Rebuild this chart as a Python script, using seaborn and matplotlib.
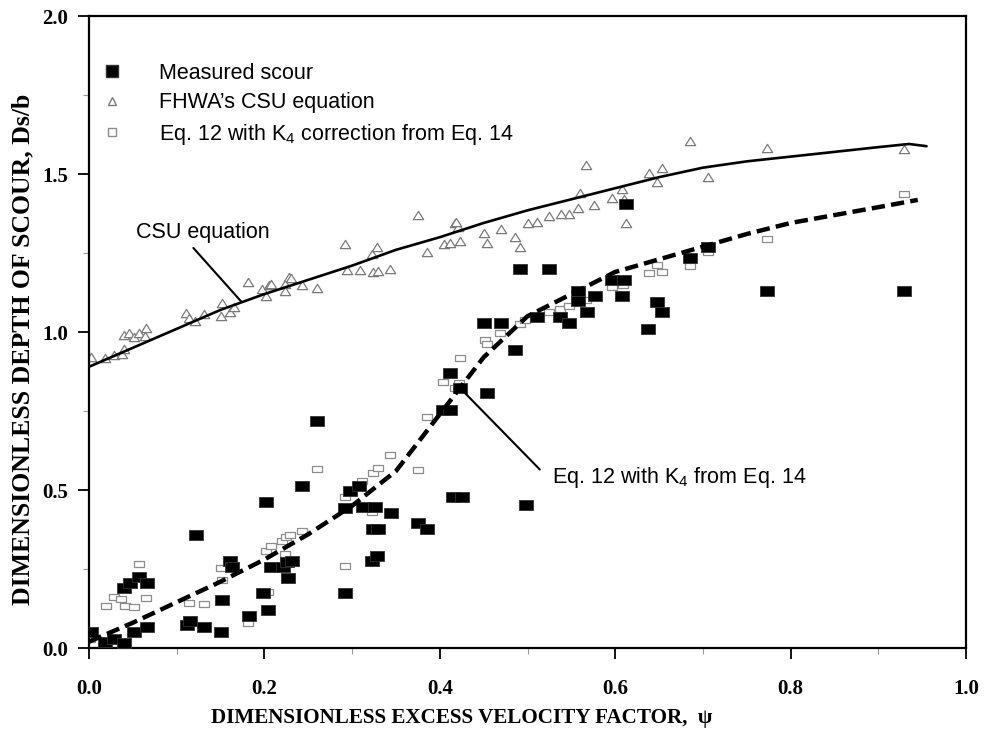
import numpy as np
import pandas as pd
import matplotlib
matplotlib.use("Agg")
import matplotlib.pyplot as plt
from matplotlib.path import Path
from matplotlib.markers import MarkerStyle
from matplotlib.lines import Line2D
import seaborn as sns

# ---------------- data ----------------
measured_x = [0.002, 0.018, 0.029, 0.040, 0.051, 0.066, 0.040, 0.047, 0.057, 0.066,
              0.112, 0.115, 0.131, 0.152, 0.151, 0.161, 0.163, 0.182, 0.122, 0.198,
              0.204, 0.207, 0.202, 0.243, 0.260, 0.221, 0.226, 0.231, 0.227, 0.292,
              0.298, 0.292, 0.308, 0.312, 0.326, 0.324, 0.330, 0.323, 0.328, 0.344,
              0.375, 0.385, 0.404, 0.412, 0.412, 0.423, 0.415, 0.425, 0.454, 0.491,
              0.524, 0.450, 0.470, 0.486, 0.511, 0.537, 0.547, 0.558, 0.558, 0.612,
              0.577, 0.568, 0.596, 0.610, 0.608, 0.648, 0.653, 0.637, 0.685, 0.706,
              0.773, 0.929, 0.498]
measured_y = [0.050, 0.020, 0.030, 0.016, 0.050, 0.066, 0.190, 0.205, 0.225, 0.205,
              0.073, 0.085, 0.066, 0.152, 0.050, 0.275, 0.256, 0.100, 0.357, 0.174,
              0.120, 0.256, 0.462, 0.513, 0.718, 0.256, 0.272, 0.275, 0.222, 0.174,
              0.497, 0.443, 0.512, 0.446, 0.446, 0.377, 0.377, 0.275, 0.291, 0.427,
              0.395, 0.377, 0.753, 0.753, 0.870, 0.823, 0.478, 0.478, 0.807, 1.199,
              1.199, 1.028, 1.028, 0.943, 1.047, 1.047, 1.028, 1.130, 1.098, 1.405,
              1.114, 1.063, 1.165, 1.165, 1.114, 1.095, 1.063, 1.009, 1.234, 1.269,
              1.130, 1.130, 0.453]

csu_x = [0.002, 0.018, 0.029, 0.038, 0.040, 0.040, 0.046, 0.051, 0.057, 0.065,
         0.064, 0.111, 0.114, 0.121, 0.131, 0.152, 0.151, 0.161, 0.165, 0.181,
         0.197, 0.202, 0.205, 0.207, 0.224, 0.228, 0.230, 0.223, 0.243, 0.260,
         0.292, 0.323, 0.328, 0.309, 0.294, 0.324, 0.330, 0.343, 0.385, 0.405,
         0.412, 0.423, 0.417, 0.421, 0.454, 0.450, 0.470, 0.486, 0.491, 0.500,
         0.511, 0.375, 0.418, 0.567, 0.639, 0.653, 0.648, 0.608, 0.596, 0.576,
         0.558, 0.547, 0.538, 0.524, 0.612, 0.685, 0.706, 0.560, 0.610, 0.773,
         0.929]
csu_y = [0.921, 0.918, 0.927, 0.930, 0.946, 0.991, 0.997, 0.984, 0.997, 1.013,
         0.987, 1.060, 1.044, 1.035, 1.057, 1.092, 1.051, 1.063, 1.079, 1.158,
         1.136, 1.114, 1.149, 1.152, 1.152, 1.174, 1.171, 1.130, 1.149, 1.139,
         1.278, 1.247, 1.269, 1.196, 1.196, 1.190, 1.193, 1.199, 1.253, 1.278,
         1.282, 1.288, 1.345, 1.332, 1.282, 1.313, 1.326, 1.301, 1.269, 1.345,
         1.348, 1.370, 1.348, 1.528, 1.503, 1.519, 1.475, 1.452, 1.424, 1.402,
         1.392, 1.373, 1.373, 1.367, 1.345, 1.604, 1.491, 1.440, 1.421, 1.582,
         1.579]

eq12_x = [0.057, 0.029, 0.037, 0.019, 0.041, 0.051, 0.065, 0.114, 0.131, 0.151,
          0.181, 0.001, 0.029, 0.260, 0.204, 0.202, 0.207, 0.220, 0.225, 0.229,
          0.243, 0.224, 0.292, 0.292, 0.311, 0.324, 0.330, 0.323, 0.343, 0.375,
          0.385, 0.404, 0.423, 0.422, 0.417, 0.452, 0.454, 0.469, 0.491, 0.497,
          0.525, 0.537, 0.547, 0.567, 0.596, 0.609, 0.639, 0.653, 0.648, 0.685,
          0.706, 0.773, 0.929, 0.152]
eq12_y = [0.266, 0.161, 0.155, 0.133, 0.133, 0.130, 0.158, 0.142, 0.139, 0.253,
          0.079, 0.030, 0.010, 0.566, 0.177, 0.307, 0.323, 0.339, 0.351, 0.358,
          0.370, 0.297, 0.259, 0.478, 0.528, 0.554, 0.570, 0.430, 0.611, 0.563,
          0.731, 0.842, 0.918, 0.839, 0.823, 0.975, 0.962, 0.997, 1.025, 1.038,
          1.063, 1.073, 1.082, 1.101, 1.142, 1.149, 1.187, 1.190, 1.212, 1.209,
          1.253, 1.294, 1.437, 0.215]

csu_line_x = [0.0, 0.05, 0.10, 0.15, 0.20, 0.25, 0.30, 0.35, 0.40, 0.45, 0.50,
              0.55, 0.60, 0.65, 0.70, 0.75, 0.80, 0.85, 0.90, 0.935, 0.955]
csu_line_y = [0.89, 0.95, 1.01, 1.07, 1.12, 1.165, 1.21, 1.26, 1.30, 1.345, 1.385,
              1.42, 1.455, 1.49, 1.52, 1.54, 1.555, 1.57, 1.585, 1.595, 1.588]

eq12_line_x = [0.0, 0.05, 0.10, 0.15, 0.20, 0.25, 0.30, 0.35, 0.40, 0.45, 0.50,
               0.55, 0.60, 0.65, 0.70, 0.75, 0.80, 0.85, 0.90, 0.945]
eq12_line_y = [0.02, 0.08, 0.145, 0.21, 0.28, 0.36, 0.45, 0.56, 0.74, 0.92, 1.05,
               1.12, 1.19, 1.23, 1.27, 1.31, 1.345, 1.37, 1.395, 1.418]

x_ticks = [0.0, 0.2, 0.4, 0.6, 0.8, 1.0]
y_ticks = [0.0, 0.5, 1.0, 1.5, 2.0]

legend_labels = ["Measured scour", "FHWA\u2019s CSU equation",
                 "Eq. 12 with K$_\\mathregular{4}$ correction from Eq. 14"]

# ---------------- style ----------------
sns.set_style("white")
plt.rcParams["font.family"] = ["Liberation Sans", "DejaVu Sans"]
plt.rcParams["mathtext.fontset"] = "custom"
plt.rcParams["mathtext.rm"] = "Liberation Sans"
plt.rcParams["text.color"] = "black"
plt.rcParams["axes.labelcolor"] = "black"
plt.rcParams["xtick.color"] = "black"
plt.rcParams["ytick.color"] = "black"

FS = 15.5

fig = plt.figure(figsize=(9.89, 7.34), dpi=100)
ax = fig.add_axes([89 / 989, 1 - 648 / 734, 877 / 989, 632 / 734])

rect_big = MarkerStyle(Path([(-1, -0.75), (1, -0.75), (1, 0.75), (-1, 0.75), (-1, -0.75)], closed=True))
rect_small = MarkerStyle(Path([(-1, -0.7), (1, -0.7), (1, 0.7), (-1, 0.7), (-1, -0.7)], closed=True))
tri = MarkerStyle(Path([(0, 0.8), (-1, -0.8), (1, -0.8), (0, 0.8)], closed=True))

df_m = pd.DataFrame({"x": measured_x, "y": measured_y})
df_c = pd.DataFrame({"x": csu_x, "y": csu_y})
df_e = pd.DataFrame({"x": eq12_x, "y": eq12_y})
df_cl = pd.DataFrame({"x": csu_line_x, "y": csu_line_y})
df_el = pd.DataFrame({"x": eq12_line_x, "y": eq12_line_y})

sns.scatterplot(data=df_e, x="x", y="y", marker=rect_small, s=50, facecolor="white",
                edgecolor="#8c8c8c", linewidth=0.9, ax=ax, zorder=2)
sns.scatterplot(data=df_c, x="x", y="y", marker=tri, s=55, facecolor="white",
                edgecolor="#7a7a7a", linewidth=0.9, ax=ax, zorder=2)
sns.scatterplot(data=df_m, x="x", y="y", marker=rect_big, s=95, facecolor="black",
                edgecolor="#333333", linewidth=0.6, ax=ax, zorder=3)
sns.lineplot(data=df_cl, x="x", y="y", sort=False, estimator=None, color="black",
             lw=1.9, ax=ax, zorder=4)
sns.lineplot(data=df_el, x="x", y="y", sort=False, estimator=None, color="black",
             lw=3.2, ax=ax, zorder=4)
ax.lines[-1].set_dashes((3.0, 1.4))

# annotations
ax.plot([0.119, 0.174], [1.266, 1.095], color="black", lw=1.5, zorder=4)
ax.text(0.054, 1.316, "CSU equation", fontsize=FS, va="center", ha="left")
ax.plot([0.423, 0.514], [0.823, 0.565], color="black", lw=1.5, zorder=4)
ax.text(0.528, 0.538, "Eq. 12 with K$_\\mathregular{4}$ from Eq. 14", fontsize=FS,
        va="center", ha="left")

# legend
handles = [
    Line2D([], [], ls="none", marker="s", markersize=8, markerfacecolor="black",
           markeredgecolor="#333333"),
    Line2D([], [], ls="none", marker="^", markersize=5.5, markerfacecolor="white",
           markeredgecolor="#7a7a7a"),
    Line2D([], [], ls="none", marker="s", markersize=5.5, markerfacecolor="white",
           markeredgecolor="#8c8c8c"),
]
ax.legend(handles, legend_labels, loc="upper left", bbox_to_anchor=(0.0137, 0.926),
          frameon=False, fontsize=FS, handlelength=1.0, handletextpad=1.7,
          labelspacing=0.40, borderaxespad=0.0, borderpad=0.0)

# axes
ax.set_xlim(0, 1.0)
ax.set_ylim(0, 2.0)
ax.set_xticks(x_ticks)
ax.set_yticks(y_ticks)
ax.set_xticklabels([f"{v:.1f}" for v in x_ticks])
ax.set_yticklabels([f"{v:.1f}" for v in y_ticks])
ax.set_xticks([0.1, 0.3, 0.5, 0.7, 0.9], minor=True)
ax.set_yticks([0.25, 0.75, 1.25, 1.75], minor=True)
ax.tick_params(which="major", direction="out", length=8, width=1.3, color="black",
               bottom=True, left=True)
ax.tick_params(which="minor", direction="out", length=4, width=0.8, color="#999999",
               bottom=True, left=True)
ax.tick_params(axis="x", which="major", pad=14)
ax.tick_params(axis="y", which="major", pad=7)
for lab in ax.get_xticklabels() + ax.get_yticklabels():
    lab.set_fontfamily("Liberation Serif")
    lab.set_fontweight("bold")
    lab.set_fontsize(15)

for sp in ax.spines.values():
    sp.set_visible(True)
    sp.set_color("black")
    sp.set_linewidth(1.6)

ax.set_xlabel("DIMENSIONLESS EXCESS VELOCITY FACTOR,  \u03c8", fontfamily="Liberation Serif",
              fontweight="bold", fontsize=15.2)
ax.set_ylabel("DIMENSIONLESS DEPTH OF SCOUR, Ds/b", fontfamily="Liberation Serif",
              fontweight="bold", fontsize=18.5)
ax.xaxis.set_label_coords(0.425, -0.095)
ax.yaxis.set_label_coords(-0.062, 0.472)

fig.savefig("out.png", dpi=100)
